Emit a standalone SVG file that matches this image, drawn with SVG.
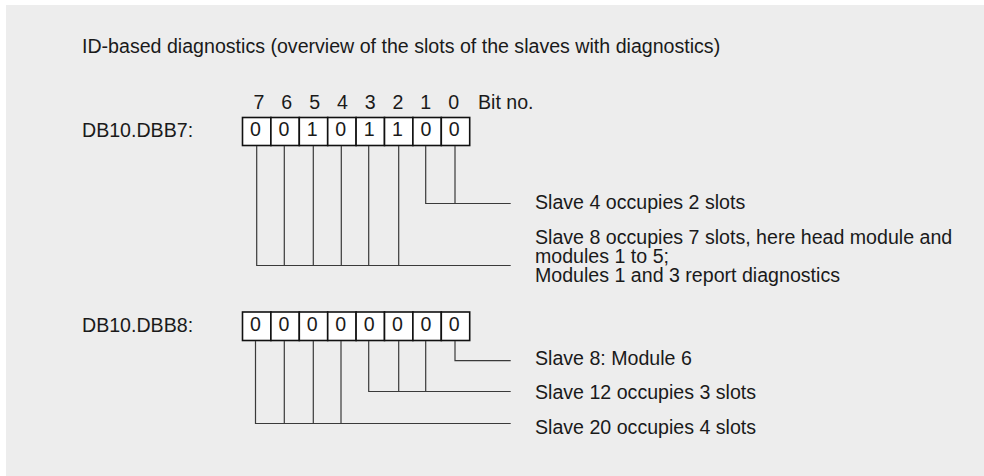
<svg xmlns="http://www.w3.org/2000/svg" width="984" height="476" viewBox="0 0 984 476">
  <style>
    text { font-family: "Liberation Sans", Arial, sans-serif; font-size: 19.6px; fill: #1a1a1a; }
    .c { text-anchor: middle; }
    .cell { fill: #ffffff; stroke: #111111; stroke-width: 1.6; }
    .conn { fill: none; stroke: #3a3a3a; stroke-width: 1.2; }
  </style>
  <rect x="6" y="5" width="978" height="471" fill="#ededed"/>
  <text id="title" x="82" y="53">ID-based diagnostics (overview of the slots of the slaves with diagnostics)</text>

  <g id="bitnumbers">
    <text class="c" x="259" y="109">7</text>
    <text class="c" x="286.8" y="109">6</text>
    <text class="c" x="314.6" y="109">5</text>
    <text class="c" x="342.4" y="109">4</text>
    <text class="c" x="370.2" y="109">3</text>
    <text class="c" x="398" y="109">2</text>
    <text class="c" x="425.8" y="109">1</text>
    <text class="c" x="453.6" y="109">0</text>
    <text x="478" y="109">Bit no.</text>
  </g>

  <g id="dbb7">
    <text x="82" y="137">DB10.DBB7:</text>
    <rect class="cell" x="242.5" y="117.5" width="28.4" height="28"/>
    <rect class="cell" x="270.9" y="117.5" width="28.4" height="28"/>
    <rect class="cell" x="299.3" y="117.5" width="28.4" height="28"/>
    <rect class="cell" x="327.7" y="117.5" width="28.4" height="28"/>
    <rect class="cell" x="356.1" y="117.5" width="28.4" height="28"/>
    <rect class="cell" x="384.5" y="117.5" width="28.4" height="28"/>
    <rect class="cell" x="412.9" y="117.5" width="28.4" height="28"/>
    <rect class="cell" x="441.3" y="117.5" width="28.4" height="28"/>
    <text class="c" x="255.5" y="136">0</text>
    <text class="c" x="283.9" y="136">0</text>
    <text class="c" x="312.3" y="136">1</text>
    <text class="c" x="340.7" y="136">0</text>
    <text class="c" x="369.1" y="136">1</text>
    <text class="c" x="397.5" y="136">1</text>
    <text class="c" x="425.9" y="136">0</text>
    <text class="c" x="454.3" y="136">0</text>
  </g>

  <g id="dbb8">
    <text x="82" y="332">DB10.DBB8:</text>
    <rect class="cell" x="242.5" y="312" width="28.4" height="28.5"/>
    <rect class="cell" x="270.9" y="312" width="28.4" height="28.5"/>
    <rect class="cell" x="299.3" y="312" width="28.4" height="28.5"/>
    <rect class="cell" x="327.7" y="312" width="28.4" height="28.5"/>
    <rect class="cell" x="356.1" y="312" width="28.4" height="28.5"/>
    <rect class="cell" x="384.5" y="312" width="28.4" height="28.5"/>
    <rect class="cell" x="412.9" y="312" width="28.4" height="28.5"/>
    <rect class="cell" x="441.3" y="312" width="28.4" height="28.5"/>
    <text class="c" x="255.5" y="331">0</text>
    <text class="c" x="283.9" y="331">0</text>
    <text class="c" x="312.3" y="331">0</text>
    <text class="c" x="340.7" y="331">0</text>
    <text class="c" x="369.1" y="331">0</text>
    <text class="c" x="397.5" y="331">0</text>
    <text class="c" x="425.9" y="331">0</text>
    <text class="c" x="454.3" y="331">0</text>
  </g>

  <g id="connectors">
    <path class="conn" d="M425.7 146 V203.5 H510.7 M455 146 V203.5"/>
    <path class="conn" d="M256.7 146 V265.5 H510.7 M284.3 146 V265.5 M313.3 146 V265.5 M341.3 146 V265.5 M368.7 146 V265.5 M398.7 146 V265.5"/>
    <path class="conn" d="M455 341 V360.7 H510.7"/>
    <path class="conn" d="M368.7 341 V391.5 H510.7 M398.7 341 V391.5 M425.7 341 V391.5"/>
    <path class="conn" d="M255.5 341 V423.5 H510.7 M284.3 341 V423.5 M313.3 341 V423.5 M341 341 V423.5"/>
  </g>

  <g id="labels">
    <text x="535" y="209">Slave 4 occupies 2 slots</text>
    <text x="535" y="244">Slave 8 occupies 7 slots, here head module and<tspan x="535" dy="19">modules 1 to 5;</tspan><tspan x="535" dy="19">Modules 1 and 3 report diagnostics</tspan></text>
    <text x="535" y="365">Slave 8: Module 6</text>
    <text x="535" y="399">Slave 12 occupies 3 slots</text>
    <text x="535" y="434">Slave 20 occupies 4 slots</text>
  </g>
</svg>
